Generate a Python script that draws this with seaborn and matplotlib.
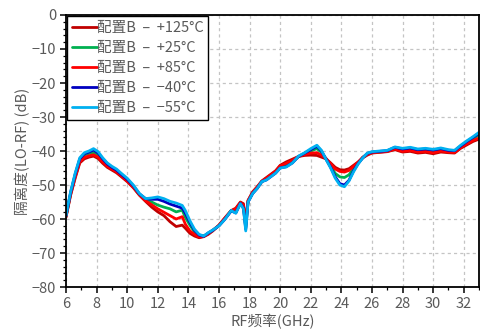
import numpy as np
import pandas as pd
import matplotlib
matplotlib.use("Agg")
import matplotlib.pyplot as plt
from matplotlib.ticker import MultipleLocator
import seaborn as sns

# frequency points (GHz), shared by every trace
freq = [6.0, 6.3, 6.6, 6.9, 7.2, 7.5, 7.8, 8.1, 8.4, 8.7,
        9.0, 9.3, 9.6, 10.0, 10.4, 10.8, 11.2, 11.6, 12.0, 12.4,
        12.8, 13.2, 13.6, 13.8, 14.1, 14.4, 14.7, 15.0, 15.3, 15.6,
        16.0, 16.4, 16.8, 17.1, 17.4, 17.6, 17.75, 17.9, 18.2, 18.5,
        18.8, 19.1, 19.4, 19.7, 20.0, 20.4, 20.8, 21.2, 21.6, 22.0,
        22.4, 22.7, 23.0, 23.3, 23.6, 23.9, 24.2, 24.5, 24.8, 25.1,
        25.4, 25.7, 26.0, 26.5, 27.0, 27.5, 28.0, 28.5, 29.0, 29.5,
        30.0, 30.5, 31.0, 31.4, 31.8, 32.2, 32.6, 33.0]

iso_p125 = [-59.5, -53, -48, -43.5, -42.3, -41.8, -41.5, -42.2, -43.6, -44.8,
            -45.6, -46.4, -47.5, -49, -50.8, -53, -54.8, -56.5, -57.9, -59,
            -60.8, -62.2, -61.8, -62.7, -64.2, -65, -65.5, -65.2, -64.5, -63.5,
            -61.8, -59.6, -57.5, -56.8, -55, -55.5, -60.5, -54.5, -52, -50.5,
            -48.8, -47.8, -46.8, -45.8, -44.2, -43.2, -42.4, -41.6, -41.3, -41.2,
            -41.3, -41.8, -42.3, -43.5, -44.8, -45.5, -45.6, -45.2, -44.2, -43.2,
            -42, -41.2, -40.6, -40.4, -40.2, -39.6, -40.3, -40.1, -40.6, -40.4,
            -40.8, -40.3, -40.5, -40.6, -39.2, -38.2, -37.2, -36.5]

iso_p25 = [-59.2, -52.5, -47.2, -42.7, -41.2, -40.7, -40.5, -41.2, -42.8, -44.1,
           -45, -45.8, -47, -48.5, -50.4, -52.8, -54.3, -55, -55.9, -56.5,
           -57, -57.9, -57.4, -59.5, -61.8, -63.8, -64.8, -65, -64.2, -63.3,
           -61.9, -59.8, -57.5, -58, -55.3, -56.5, -62.5, -54.8, -52.4, -50.8,
           -49, -48.3, -47.3, -46.3, -44.8, -44.2, -43.2, -41.6, -40.8, -40,
           -39.3, -40.4, -42.3, -44.5, -46.6, -47.6, -47.8, -47, -45.2, -43.5,
           -41.9, -40.8, -40.4, -40.2, -40, -39.1, -39.7, -39.4, -39.9, -39.7,
           -40.1, -39.6, -40, -40.1, -38.7, -37.4, -36.3, -35.3]

iso_p85 = [-59.3, -52.8, -47.6, -43.2, -41.9, -41.4, -41.1, -41.8, -43.2, -44.5,
           -45.3, -46.1, -47.2, -48.8, -50.6, -52.9, -54.6, -55.8, -57, -58,
           -59, -60, -59.3, -61.5, -63.5, -64.5, -65.3, -65.1, -64.3, -63.3,
           -61.8, -59.6, -57.6, -57, -55.2, -56, -61.5, -54.6, -52.2, -50.6,
           -48.9, -48, -47, -46, -44.4, -43.6, -42.8, -41.6, -41, -40.6,
           -40.5, -41.2, -42.2, -43.8, -45.3, -46, -46.2, -45.7, -44.5, -43.3,
           -41.8, -41, -40.5, -40.3, -40.1, -39.4, -40.1, -39.8, -40.3, -40.1,
           -40.5, -40, -40.3, -40.4, -39, -37.9, -36.9, -36.2]

iso_m40 = [-59.1, -52.2, -46.8, -42.3, -40.8, -40.3, -39.7, -40.6, -42.3, -43.8,
           -44.8, -45.6, -46.8, -48.3, -50.2, -52.6, -54, -54.2, -54.2, -54.8,
           -55.6, -56.2, -56.8, -58.3, -61, -63.3, -64.7, -65.1, -64.1, -63.3,
           -62, -60, -57.6, -58.2, -55.4, -56.8, -63, -55, -52.5, -51,
           -49, -48.5, -47.5, -46.5, -45, -44.6, -43.5, -41.6, -40.6, -39.6,
           -38.6, -40, -42.4, -44.8, -47.6, -49.6, -50, -48.6, -45.8, -43.7,
           -42, -40.7, -40.3, -40.1, -39.9, -38.9, -39.4, -39.1, -39.6, -39.4,
           -39.7, -39.3, -39.8, -39.9, -38.5, -37.2, -36, -34.8]

iso_m55 = [-59, -52, -46.5, -42, -40.5, -40, -39.3, -40.2, -42, -43.5,
           -44.5, -45.3, -46.5, -48, -50, -52.5, -54, -53.8, -53.5, -54,
           -54.8, -55.3, -56, -57.5, -60.5, -63, -64.5, -65, -64, -63.2,
           -62, -60, -57.5, -58.3, -55.5, -57, -63.5, -55, -52.5, -51,
           -49, -48.5, -47.5, -46.5, -45, -44.7, -43.5, -41.5, -40.5, -39.3,
           -38.3, -39.8, -42.5, -45, -48, -50, -50.5, -48.8, -46.1, -43.8,
           -42, -40.6, -40.2, -40, -39.8, -38.8, -39.2, -38.9, -39.4, -39.2,
           -39.5, -39.1, -39.6, -39.8, -38.3, -37, -35.8, -34.5]

labels = ["配置B  –  +125°C", "配置B  –  +25°C", "配置B  –  +85°C",
          "配置B  –  −40°C", "配置B  –  −55°C"]
colors = ["#C00000", "#00B050", "#FF0000", "#0000C0", "#00B0F0"]

series = [iso_p125, iso_p25, iso_p85, iso_m40, iso_m55]
df = pd.concat([pd.DataFrame({"freq": freq, "iso": s, "cond": lab})
                for s, lab in zip(series, labels)], ignore_index=True)

sns.set_style("ticks")
plt.rcParams["font.family"] = ["Noto Sans CJK SC", "DejaVu Sans"]
plt.rcParams["axes.unicode_minus"] = True

grey = "#595959"
fig = plt.figure(figsize=(4.8, 3.33), dpi=100)
ax = fig.add_axes([0.1375, 0.138, 0.8605, 0.817])

sns.lineplot(data=df, x="freq", y="iso", hue="cond", hue_order=labels,
             palette=colors, linewidth=2.0, ax=ax, sort=False)

ax.set_xlim(6, 33)
ax.set_ylim(-80, 0)
ax.xaxis.set_major_locator(MultipleLocator(2))
ax.xaxis.set_minor_locator(MultipleLocator(1))
ax.yaxis.set_major_locator(MultipleLocator(10))
ax.yaxis.set_minor_locator(MultipleLocator(2))
ax.grid(True, which="major", linestyle=(0, (2.5, 2.5)), color="#c4c4c4", linewidth=0.9)
ax.set_axisbelow(True)

for sp in ax.spines.values():
    sp.set_color("black")
    sp.set_linewidth(1.3)
ax.tick_params(which="major", direction="out", length=4, width=1.1,
               color="black", labelsize=10.5, labelcolor=grey, pad=3)
ax.tick_params(which="minor", direction="out", length=2.5, width=0.9, color="black")

ax.set_xlabel("RF频率(GHz)", fontsize=10.5, color=grey, labelpad=2)
ax.set_ylabel("隔离度(LO-RF) (dB)", fontsize=10.5, color=grey, labelpad=1)

leg = ax.legend(loc="upper left", bbox_to_anchor=(0.0, 1.0), borderaxespad=0.1,
                fontsize=10.5, frameon=True, fancybox=False, framealpha=1,
                edgecolor="black", handlelength=1.7, handletextpad=0.05,
                labelspacing=0.42, borderpad=0.3)
leg.get_frame().set_linewidth(1.0)
for t in leg.get_texts():
    t.set_color(grey)

fig.savefig("out.png", dpi=100)
